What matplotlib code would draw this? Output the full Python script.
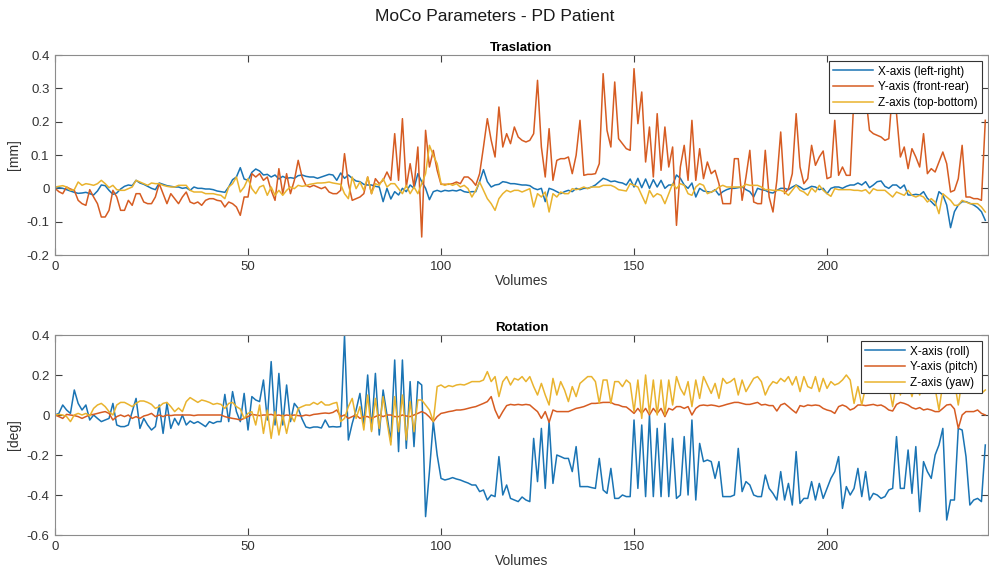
import matplotlib
matplotlib.use("Agg")
import matplotlib.pyplot as plt
import numpy as np

plt.rcParams['font.family'] = ['Liberation Sans', 'DejaVu Sans']

# MATLAB default line colours
C_BLUE = '#1a74b4'
C_ORANGE = '#d65c22'
C_YELLOW = '#e9b32e'

### TRANSLATION [mm] ###
trans_x = [
    0.000, 0.002, 0.000, -0.004, -0.008, -0.012, -0.015, -0.014, -0.012, -0.016,
    -0.020, -0.008, 0.010, 0.008, -0.006, -0.018, -0.014, -0.002, 0.006, 0.010,
    0.008, 0.024, 0.016, 0.012, 0.006, 0.000, -0.004, 0.016, 0.012, 0.008,
    0.006, 0.004, 0.004, 0.000, 0.002, -0.006, 0.004, 0.000, 0.000, -0.002,
    -0.002, -0.004, -0.008, -0.010, -0.012, 0.004, 0.026, 0.034, 0.062, 0.028,
    0.024, 0.048, 0.058, 0.052, 0.040, 0.042, 0.034, 0.040, 0.028, 0.036,
    0.030, 0.032, 0.030, 0.038, 0.040, 0.036, 0.034, 0.034, 0.030, 0.034,
    0.038, 0.042, 0.040, 0.024, 0.046, 0.030, 0.040, 0.030, 0.022, 0.020,
    0.012, 0.010, 0.010, 0.006, 0.004, -0.040, 0.000, -0.032, -0.010, -0.020,
    0.000, -0.010, 0.010, 0.000, 0.044, 0.020, 0.000, -0.034, -0.010, -0.006,
    -0.010, -0.006, -0.008, -0.006, -0.008, -0.004, -0.010, -0.012, -0.010, -0.010,
    0.020, 0.056, 0.020, 0.004, 0.010, 0.012, 0.020, 0.018, 0.014, 0.014,
    0.012, 0.010, 0.010, 0.008, 0.000, -0.004, 0.000, -0.040, 0.000, -0.004,
    -0.010, -0.016, -0.010, -0.006, -0.010, 0.000, -0.004, 0.000, 0.000, 0.004,
    0.010, 0.020, 0.030, 0.026, 0.020, 0.022, 0.018, 0.016, 0.010, 0.028,
    0.004, 0.030, 0.002, 0.028, 0.000, 0.026, 0.004, 0.024, 0.000, 0.010,
    0.010, 0.040, 0.030, 0.010, 0.000, 0.016, -0.026, 0.000, -0.008, -0.010,
    -0.012, -0.004, -0.020, -0.010, -0.004, 0.000, 0.000, 0.002, 0.004, -0.004,
    -0.010, -0.026, 0.000, -0.004, -0.006, -0.012, -0.014, -0.006, 0.000, 0.000,
    -0.004, 0.004, 0.010, 0.004, -0.004, 0.000, 0.006, 0.004, -0.004, 0.000,
    -0.016, 0.000, 0.004, 0.004, 0.000, 0.006, 0.010, 0.010, 0.016, 0.010,
    0.020, 0.002, 0.010, 0.020, 0.022, 0.006, 0.000, 0.010, 0.010, 0.000,
    0.010, -0.020, -0.020, -0.018, -0.020, -0.010, -0.030, -0.040, -0.052, -0.010,
    -0.020, -0.050, -0.118, -0.070, -0.050, -0.040, -0.040, -0.045, -0.050, -0.058,
    -0.070, -0.096,
]

trans_y = [
    0.000, -0.010, -0.016, 0.004, -0.002, -0.006, -0.036, -0.046, -0.051, -0.004,
    -0.026, -0.046, -0.086, -0.086, -0.066, -0.006, -0.026, -0.066, -0.066, -0.036,
    -0.051, -0.016, -0.016, -0.041, -0.046, -0.046, -0.026, 0.014, -0.016, -0.046,
    -0.016, -0.031, -0.046, -0.026, -0.011, -0.041, -0.046, -0.041, -0.051, -0.036,
    -0.031, -0.031, -0.036, -0.038, -0.056, -0.041, -0.046, -0.056, -0.081, -0.026,
    -0.026, 0.044, 0.034, 0.044, 0.024, 0.034, -0.006, -0.036, 0.059, -0.016,
    0.044, -0.016, 0.024, 0.084, 0.034, 0.009, 0.004, 0.009, 0.004, -0.001,
    0.004, -0.011, -0.016, -0.016, -0.006, 0.104, 0.014, -0.036, -0.031, -0.026,
    -0.016, 0.034, -0.016, 0.029, 0.014, 0.024, 0.049, 0.024, 0.164, 0.024,
    0.209, 0.004, 0.074, 0.004, 0.124, -0.146, 0.174, 0.064, 0.114, 0.054,
    0.012, 0.012, 0.012, 0.014, 0.019, 0.014, 0.034, 0.034, 0.024, 0.009,
    0.044, 0.124, 0.209, 0.144, 0.094, 0.244, 0.124, 0.164, 0.134, 0.184,
    0.154, 0.144, 0.139, 0.144, 0.164, 0.324, 0.124, 0.034, 0.179, 0.024,
    0.084, 0.089, 0.089, 0.094, 0.044, 0.099, 0.204, 0.039, 0.042, 0.042,
    0.044, 0.074, 0.344, 0.174, 0.124, 0.319, 0.149, 0.134, 0.119, 0.114,
    0.359, 0.194, 0.289, 0.079, 0.184, 0.034, 0.224, 0.054, 0.184, 0.064,
    0.124, -0.111, 0.064, 0.129, 0.024, 0.204, 0.024, 0.119, 0.029, 0.079,
    0.044, 0.054, 0.014, -0.046, -0.046, -0.046, 0.089, 0.089, -0.036, 0.034,
    0.114, -0.041, -0.046, -0.046, 0.114, -0.026, -0.071, 0.024, 0.169, -0.016,
    -0.001, 0.044, 0.224, 0.064, 0.014, 0.029, 0.129, 0.069, 0.094, 0.112,
    0.029, 0.034, 0.204, 0.039, 0.064, 0.039, 0.039, 0.280, 0.300, 0.260,
    0.280, 0.174, 0.164, 0.159, 0.154, 0.144, 0.149, 0.300, 0.224, 0.094,
    0.124, 0.059, 0.119, 0.094, 0.064, 0.164, 0.044, 0.059, 0.049, 0.079,
    0.109, 0.074, -0.011, -0.006, 0.029, 0.129, -0.026, -0.026, -0.031, -0.031,
    -0.036, 0.204,
]

trans_z = [
    0.004, 0.006, 0.008, 0.004, -0.006, -0.004, 0.019, 0.009, 0.014, 0.012,
    0.009, 0.014, 0.024, 0.014, 0.002, 0.009, -0.004, -0.006, -0.006, -0.001,
    0.004, 0.024, 0.019, 0.014, 0.009, 0.016, 0.014, 0.014, 0.009, 0.006,
    0.004, 0.004, 0.009, 0.009, 0.009, -0.006, -0.011, -0.011, -0.011, -0.016,
    -0.016, -0.016, -0.019, -0.021, -0.031, 0.004, 0.014, 0.034, -0.011, 0.004,
    0.029, -0.001, -0.016, 0.004, 0.009, -0.021, 0.004, -0.021, -0.006, -0.021,
    -0.006, 0.004, -0.001, 0.009, 0.006, 0.008, 0.012, 0.014, 0.016, 0.016,
    0.017, 0.019, 0.016, 0.014, 0.012, -0.016, -0.031, 0.034, -0.001, 0.019,
    -0.006, 0.034, -0.016, 0.014, 0.009, 0.029, 0.004, 0.014, 0.014, -0.001,
    -0.016, 0.009, -0.016, 0.004, -0.016, 0.014, 0.044, 0.129, 0.099, 0.074,
    0.014, 0.009, 0.014, 0.009, 0.014, 0.004, 0.009, -0.001, -0.026, -0.006,
    0.019, -0.006, -0.031, -0.046, -0.066, -0.031, -0.016, -0.006, -0.011, -0.006,
    -0.006, -0.011, -0.006, -0.001, -0.056, -0.016, -0.026, -0.011, -0.071, -0.016,
    -0.026, -0.011, -0.016, -0.016, -0.001, -0.004, -0.001, 0.004, -0.001, 0.004,
    0.004, 0.004, 0.009, 0.009, 0.009, 0.004, -0.004, -0.006, -0.008, 0.014,
    0.009, 0.004, -0.021, -0.046, -0.006, -0.026, -0.016, -0.021, -0.046, -0.016,
    0.014, -0.001, 0.014, 0.009, -0.016, -0.021, 0.004, 0.014, 0.009, -0.016,
    -0.011, -0.006, 0.004, 0.009, 0.004, 0.004, 0.004, 0.004, 0.004, 0.012,
    0.009, 0.009, 0.009, 0.004, -0.004, -0.004, -0.006, -0.006, -0.006, -0.011,
    -0.021, -0.006, 0.009, -0.006, -0.011, -0.021, 0.001, -0.011, 0.009, -0.006,
    -0.016, -0.024, -0.001, -0.004, -0.004, -0.004, -0.004, -0.006, -0.006, -0.008,
    -0.004, -0.016, -0.001, -0.006, -0.006, -0.006, -0.016, -0.026, -0.011, -0.016,
    -0.021, -0.006, -0.021, -0.026, -0.021, -0.026, -0.041, -0.031, -0.041, -0.076,
    -0.016, -0.026, -0.036, -0.051, -0.051, -0.036, -0.041, -0.046, -0.046, -0.046,
    -0.056, -0.071,
]

### ROTATION [deg] ###
rot_x = [
    0.000, 0.008, 0.050, 0.025, 0.008, 0.125, 0.058, 0.025, 0.050, -0.025,
    0.000, -0.017, -0.033, -0.025, -0.017, 0.058, -0.050, -0.058, -0.058, -0.050,
    0.017, 0.083, -0.067, -0.017, -0.050, -0.075, -0.058, 0.050, -0.092, 0.058,
    -0.067, -0.017, -0.050, 0.000, -0.050, -0.030, -0.042, -0.033, -0.045, -0.058,
    -0.033, -0.042, -0.033, -0.033, 0.103, -0.033, 0.117, 0.017, -0.033, 0.108,
    -0.075, 0.092, 0.075, 0.067, 0.175, -0.025, 0.267, -0.050, 0.208, -0.050,
    0.150, -0.033, 0.058, 0.033, -0.020, -0.060, -0.065, -0.060, -0.060, -0.065,
    -0.025, -0.060, -0.058, -0.060, -0.058, 0.397, -0.125, -0.042, 0.025, 0.108,
    -0.050, 0.200, -0.075, 0.208, -0.100, 0.125, 0.000, -0.133, 0.275, -0.183,
    0.275, -0.167, 0.167, -0.158, 0.167, 0.150, -0.508, -0.283, -0.033, -0.200,
    -0.317, -0.325, -0.320, -0.313, -0.320, -0.325, -0.333, -0.340, -0.350, -0.350,
    -0.383, -0.375, -0.425, -0.400, -0.408, -0.208, -0.400, -0.350, -0.417, -0.425,
    -0.433, -0.410, -0.425, -0.433, -0.117, -0.333, -0.067, -0.367, -0.033, -0.342,
    -0.200, -0.208, -0.217, -0.217, -0.283, -0.158, -0.358, -0.358, -0.358, -0.363,
    -0.367, -0.217, -0.375, -0.392, -0.267, -0.417, -0.417, -0.400, -0.408, -0.408,
    -0.025, -0.367, -0.050, -0.408, 0.000, -0.408, -0.067, -0.408, -0.042, -0.408,
    -0.117, -0.417, -0.400, -0.108, -0.400, -0.025, -0.425, -0.142, -0.233, -0.225,
    -0.233, -0.317, -0.233, -0.408, -0.408, -0.408, -0.400, -0.167, -0.383, -0.333,
    -0.350, -0.400, -0.408, -0.408, -0.300, -0.367, -0.392, -0.425, -0.283, -0.425,
    -0.342, -0.450, -0.183, -0.442, -0.417, -0.417, -0.333, -0.425, -0.342, -0.417,
    -0.367, -0.317, -0.283, -0.208, -0.467, -0.358, -0.400, -0.367, -0.267, -0.408,
    -0.283, -0.425, -0.392, -0.400, -0.417, -0.408, -0.375, -0.367, -0.108, -0.367,
    -0.367, -0.175, -0.392, -0.158, -0.483, -0.233, -0.283, -0.317, -0.200, -0.150,
    -0.067, -0.525, -0.425, -0.425, -0.067, -0.075, -0.208, -0.450, -0.425, -0.417,
    -0.433, -0.150,
]

rot_y = [
    0.000, -0.008, -0.017, 0.003, 0.000, -0.003, -0.008, -0.017, -0.008, 0.000,
    0.003, 0.008, 0.013, 0.017, 0.008, -0.025, -0.008, 0.000, -0.008, 0.000,
    -0.017, -0.008, -0.017, -0.005, 0.000, 0.008, -0.008, 0.000, -0.008, 0.000,
    -0.003, 0.000, 0.000, 0.000, 0.000, 0.000, -0.003, 0.000, 0.000, 0.000,
    0.000, 0.000, 0.000, 0.000, -0.008, -0.013, -0.017, -0.020, -0.025, -0.017,
    -0.008, 0.003, 0.000, -0.003, 0.000, 0.000, 0.003, -0.003, 0.000, -0.005,
    0.000, -0.003, 0.000, -0.003, -0.005, 0.000, -0.003, 0.003, 0.005, 0.008,
    0.010, 0.008, 0.013, 0.025, -0.008, 0.000, -0.017, -0.008, 0.000, -0.017,
    -0.008, -0.008, -0.017, -0.008, 0.000, -0.008, 0.000, 0.000, -0.008, -0.008,
    0.000, -0.005, -0.008, 0.000, 0.008, 0.017, 0.008, -0.010, -0.033, -0.008,
    0.008, 0.012, 0.017, 0.020, 0.025, 0.025, 0.028, 0.033, 0.038, 0.042,
    0.050, 0.058, 0.067, 0.092, 0.025, -0.017, 0.017, 0.047, 0.053, 0.050,
    0.053, 0.050, 0.053, 0.050, 0.033, 0.017, -0.017, 0.017, -0.037, 0.025,
    0.017, 0.017, 0.017, 0.017, 0.025, 0.033, 0.037, 0.042, 0.050, 0.058,
    0.058, 0.060, 0.063, 0.063, 0.063, 0.053, 0.050, 0.042, 0.040, 0.025,
    0.008, 0.033, 0.008, 0.033, 0.000, 0.033, 0.008, 0.033, -0.008, 0.033,
    0.025, 0.042, 0.042, 0.033, 0.042, 0.000, 0.033, 0.047, 0.050, 0.047,
    0.050, 0.047, 0.042, 0.047, 0.053, 0.058, 0.063, 0.063, 0.058, 0.053,
    0.053, 0.058, 0.063, 0.050, 0.053, 0.047, 0.047, 0.020, 0.050, 0.058,
    0.042, 0.025, 0.010, 0.047, 0.042, 0.050, 0.047, 0.050, 0.047, 0.033,
    0.025, 0.020, 0.008, 0.042, 0.050, 0.042, 0.025, 0.033, 0.050, 0.050,
    0.047, 0.050, 0.053, 0.047, 0.050, 0.040, 0.025, 0.020, 0.053, 0.063,
    0.058, 0.050, 0.037, 0.030, 0.037, 0.025, 0.030, 0.025, 0.017, 0.017,
    0.033, 0.050, 0.053, 0.030, -0.067, 0.000, 0.017, 0.017, 0.017, 0.025,
    0.008, 0.000,
]

rot_z = [
    0.000, 0.003, 0.000, -0.008, -0.033, 0.000, 0.008, 0.000, 0.008, -0.005,
    0.033, 0.050, 0.058, 0.042, 0.017, 0.000, 0.050, 0.063, 0.063, 0.053,
    0.042, 0.058, 0.070, 0.070, 0.063, 0.053, 0.033, 0.042, 0.058, 0.063,
    0.042, 0.017, 0.035, 0.017, 0.067, 0.087, 0.075, 0.063, 0.075, 0.070,
    0.063, 0.053, 0.058, 0.053, 0.033, 0.058, 0.063, 0.042, 0.030, -0.017,
    0.008, 0.017, -0.050, 0.050, -0.092, 0.025, -0.117, 0.017, -0.100, 0.000,
    -0.092, 0.000, -0.033, 0.033, 0.042, 0.050, 0.050, 0.063, 0.053, 0.067,
    0.050, 0.050, 0.058, 0.063, -0.033, -0.017, 0.042, 0.083, -0.017, 0.042,
    -0.075, 0.100, -0.083, 0.083, -0.067, 0.092, -0.033, -0.150, 0.092, -0.083,
    0.100, -0.125, 0.067, -0.083, 0.075, 0.075, 0.050, 0.025, -0.033, 0.142,
    0.150, 0.137, 0.147, 0.142, 0.150, 0.153, 0.150, 0.158, 0.167, 0.167,
    0.167, 0.175, 0.217, 0.167, 0.192, 0.092, 0.167, 0.192, 0.150, 0.183,
    0.175, 0.192, 0.167, 0.192, 0.142, 0.100, 0.158, 0.100, 0.050, 0.183,
    0.100, 0.167, 0.125, 0.067, 0.142, 0.092, 0.158, 0.175, 0.192, 0.192,
    0.167, 0.058, 0.175, 0.175, 0.058, 0.167, 0.167, 0.142, 0.175, 0.158,
    0.017, 0.175, -0.017, 0.200, 0.008, 0.175, 0.000, 0.175, 0.000, 0.175,
    0.050, 0.192, 0.133, 0.100, 0.167, 0.042, 0.175, 0.083, 0.192, 0.150,
    0.108, 0.158, 0.083, 0.183, 0.158, 0.167, 0.183, 0.100, 0.175, 0.117,
    0.150, 0.183, 0.192, 0.167, 0.100, 0.142, 0.167, 0.158, 0.183, 0.167,
    0.192, 0.150, 0.192, 0.117, 0.192, 0.142, 0.133, 0.192, 0.117, 0.183,
    0.133, 0.167, 0.150, 0.158, 0.175, 0.200, 0.175, 0.058, 0.142, 0.050,
    0.142, 0.133, 0.175, 0.167, 0.183, 0.175, 0.150, 0.042, 0.167, 0.100,
    0.175, 0.158, 0.092, 0.167, 0.100, 0.183, 0.150, 0.175, 0.133, 0.025,
    0.158, 0.175, 0.150, 0.167, 0.050, 0.175, 0.158, 0.183, 0.175, 0.183,
    0.108, 0.125,
]

trans_labels = ['X-axis (left-right)', 'Y-axis (front-rear)', 'Z-axis (top-bottom)']
rot_labels = ['X-axis (roll)', 'Y-axis (pitch)', 'Z-axis (yaw)']


def style_axes(ax, yticks):
    # MATLAB-like box: inward ticks on every side, grey frame
    ax.set_xlim(0, 241.7)
    ax.set_xticks([0, 50, 100, 150, 200])
    ax.set_yticks(yticks)
    ax.set_yticklabels(['0' if abs(t) < 1e-9 else f'{t:g}' for t in yticks])
    ax.set_ylim(yticks[0], yticks[-1])
    ax.tick_params(direction='in', top=True, right=True, length=5,
                   width=0.8, color='#404040', labelsize=9.5,
                   labelcolor='#333333', pad=4)
    for sp in ax.spines.values():
        sp.set_color('#8c8c8c')
        sp.set_linewidth(0.8)


fig = plt.figure(figsize=(9.89, 5.78), dpi=100)
fig.suptitle('MoCo Parameters - PD Patient', y=0.985, fontsize=12.5, color='#1a1a1a')

ax1 = fig.add_axes([55 / 989, 1 - 255 / 578, 933 / 989, 200 / 578])
ax2 = fig.add_axes([55 / 989, 1 - 535 / 578, 933 / 989, 200 / 578])

for ax, series, labels in [(ax1, [trans_x, trans_y, trans_z], trans_labels),
                           (ax2, [rot_x, rot_y, rot_z], rot_labels)]:
    for vals, col, lab in zip(series, [C_BLUE, C_ORANGE, C_YELLOW], labels):
        ax.plot(np.arange(len(vals)), vals, color=col, lw=1.1, label=lab)

style_axes(ax1, [-0.2, -0.1, 0, 0.1, 0.2, 0.3, 0.4])
style_axes(ax2, [-0.6, -0.4, -0.2, 0, 0.2, 0.4])

ax1.set_title('Traslation', fontsize=9.5, fontweight='bold', pad=3)
ax2.set_title('Rotation', fontsize=9.5, fontweight='bold', pad=3)
ax1.set_xlabel('Volumes', fontsize=10, labelpad=1, color='#333333')
ax2.set_xlabel('Volumes', fontsize=10, labelpad=1, color='#333333')
ax1.set_ylabel('[mm]', fontsize=10, labelpad=4, color='#333333')
ax2.set_ylabel('[deg]', fontsize=10, labelpad=4, color='#333333')

for ax in (ax1, ax2):
    leg = ax.legend(loc='upper right', fontsize=8.5, fancybox=False,
                    framealpha=1, edgecolor='#333333', handlelength=3.4,
                    borderaxespad=0.55, borderpad=0.35, labelspacing=0.3,
                    handletextpad=0.4)
    leg.get_frame().set_linewidth(0.8)

fig.savefig('out.png', dpi=100)
